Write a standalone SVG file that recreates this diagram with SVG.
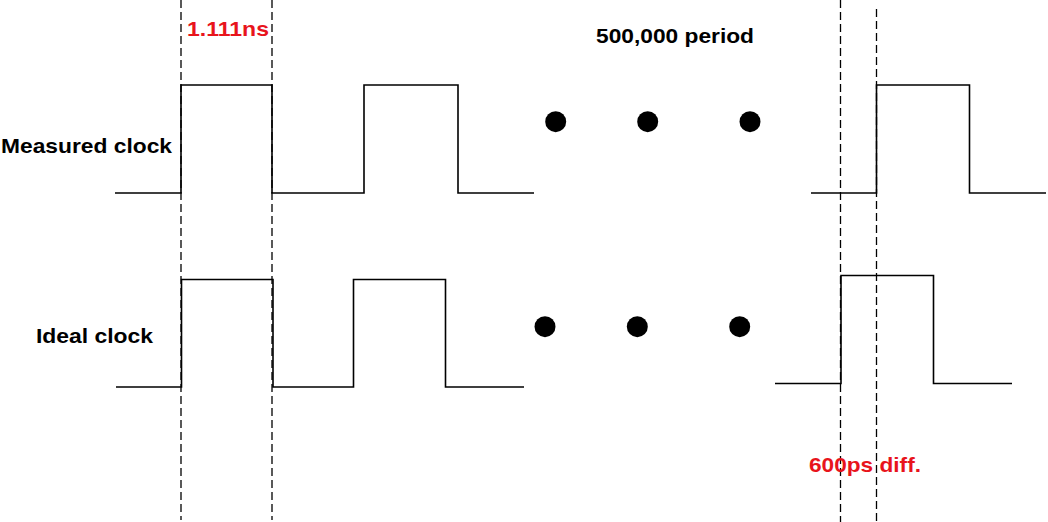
<svg xmlns="http://www.w3.org/2000/svg" width="1048" height="522" viewBox="0 0 1048 522">
<style>
.wave{fill:none;stroke:#000;stroke-width:1.6}
.dash{fill:none;stroke:#000;stroke-width:1.3;stroke-dasharray:8,4}
.lbl{font-family:"Liberation Sans",Arial,sans-serif;font-weight:bold;font-size:21px;fill:#000}
.red{fill:#e8141c}
.dot{fill:#000}
</style>
<rect width="1048" height="522" fill="#fff"/>
<g id="connectors">
<line class="dash" x1="181" y1="0" x2="181" y2="520"/>
<line class="dash" x1="272" y1="0" x2="272" y2="520"/>
<line class="dash" x1="840.5" y1="0" x2="840.5" y2="522"/>
<line class="dash" x1="876.5" y1="9" x2="876.5" y2="522"/>
</g>
<g id="measured-clock">
<polyline class="wave" points="115,193 181,193 181,85 272,85 272,193 364,193 364,85 458,85 458,193 534,193"/>
<polyline class="wave" points="811,193 876.5,193 876.5,85 969.5,85 969.5,193 1046,193"/>
<text class="lbl" x="1" y="153" textLength="171" lengthAdjust="spacingAndGlyphs">Measured clock</text>
</g>
<g id="ideal-clock">
<polyline class="wave" points="116,387 181.5,387 181.5,279.5 273,279.5 273,387 353.5,387 353.5,279.5 445.5,279.5 445.5,387 524,387"/>
<polyline class="wave" points="775,383.5 841,383.5 841,275.5 933.5,275.5 933.5,383.5 1012,383.5"/>
<text class="lbl" x="36" y="342.5" textLength="117" lengthAdjust="spacingAndGlyphs">Ideal clock</text>
</g>
<g id="dots-measured">
<circle class="dot" cx="555.7" cy="121.7" r="10.5"/>
<circle class="dot" cx="647.7" cy="121.7" r="10.5"/>
<circle class="dot" cx="750" cy="121.7" r="10.5"/>
</g>
<g id="dots-ideal">
<circle class="dot" cx="545" cy="326.7" r="10.5"/>
<circle class="dot" cx="637.3" cy="326.7" r="10.5"/>
<circle class="dot" cx="739.7" cy="326.7" r="10.5"/>
</g>
<g id="labels">
<text class="lbl red" x="187" y="35.7" textLength="82" lengthAdjust="spacingAndGlyphs">1.111ns</text>
<text class="lbl" x="596" y="42.5" textLength="158" lengthAdjust="spacingAndGlyphs">500,000 period</text>
<text class="lbl red" x="809" y="471.7" textLength="112" lengthAdjust="spacingAndGlyphs">600ps diff.</text>
</g>
</svg>
